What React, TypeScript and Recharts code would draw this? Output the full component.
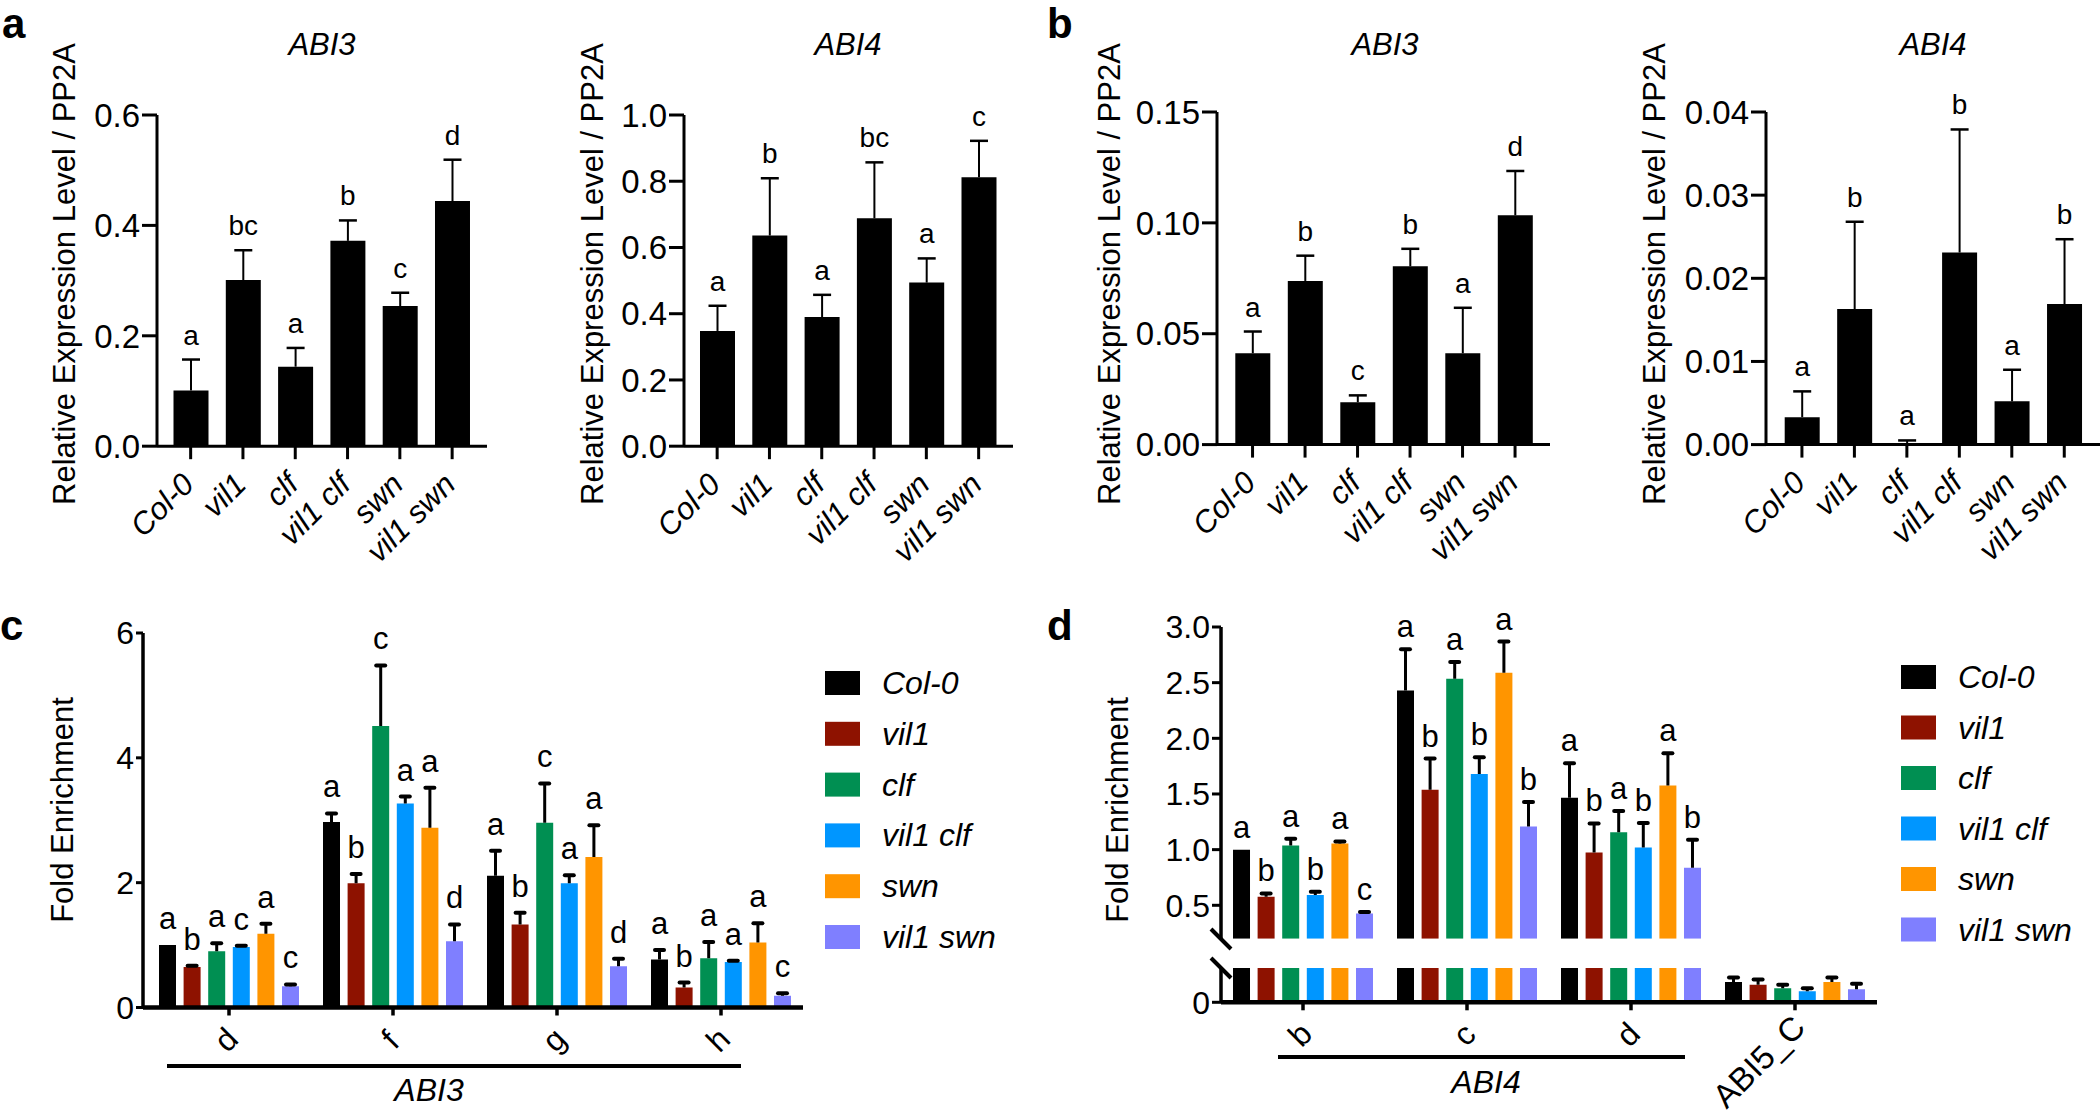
import React from "react";
import { BarChart, Bar, XAxis, YAxis, LabelList } from "recharts";

const FONT = '"Liberation Sans", Arial, Helvetica, sans-serif';

const genotypes = ["Col-0", "vil1", "clf", "vil1 clf", "swn", "vil1 swn"];
const genotypeColors = ["#000000", "#8e1200", "#008f52", "#0096ff", "#ff9500", "#7f7fff"];

// a: relative expression (qRT-PCR)
const aAbi3Mean = [0.101, 0.301, 0.144, 0.372, 0.254, 0.444];
const aAbi3Err = [0.056, 0.054, 0.034, 0.037, 0.024, 0.075];
const aAbi3Letters = ["a", "bc", "a", "b", "c", "d"];
const aAbi3Ticks = [0, 0.2, 0.4, 0.6];

const aAbi4Mean = [0.348, 0.636, 0.39, 0.688, 0.494, 0.812];
const aAbi4Err = [0.076, 0.173, 0.067, 0.169, 0.073, 0.11];
const aAbi4Letters = ["a", "b", "a", "bc", "a", "c"];
const aAbi4Ticks = [0, 0.2, 0.4, 0.6, 0.8, 1.0];

// b
const bAbi3Mean = [0.0412, 0.0738, 0.0191, 0.0804, 0.0412, 0.1034];
const bAbi3Err = [0.0098, 0.0114, 0.0031, 0.0079, 0.0205, 0.02];
const bAbi3Letters = ["a", "b", "c", "b", "a", "d"];
const bAbi3Ticks = [0, 0.05, 0.1, 0.15];

const bAbi4Mean = [0.0033, 0.0163, 0.0001, 0.0231, 0.0052, 0.0169];
const bAbi4Err = [0.0031, 0.0105, 0.0004, 0.0148, 0.0038, 0.0078];
const bAbi4Letters = ["a", "b", "a", "b", "a", "b"];
const bAbi4Ticks = [0, 0.01, 0.02, 0.03, 0.04];

// c: ChIP fold enrichment at ABI3 (one row per genotype, one column per region)
const cRegions = ["d", "f", "g", "h"];
const cMean = [
  [1.0, 2.97, 2.11, 0.77],
  [0.65, 1.99, 1.33, 0.32],
  [0.9, 4.51, 2.96, 0.79],
  [0.97, 3.27, 1.99, 0.73],
  [1.18, 2.88, 2.41, 1.04],
  [0.34, 1.06, 0.66, 0.19],
];
const cErr = [
  [0, 0.14, 0.4, 0.15],
  [0.02, 0.15, 0.19, 0.08],
  [0.13, 0.97, 0.63, 0.26],
  [0.02, 0.11, 0.13, 0.02],
  [0.16, 0.64, 0.51, 0.31],
  [0.03, 0.27, 0.12, 0.04],
];
const cLetters = [
  ["a", "a", "a", "a"],
  ["b", "b", "b", "b"],
  ["a", "c", "c", "a"],
  ["c", "a", "a", "a"],
  ["a", "a", "a", "a"],
  ["c", "d", "d", "c"],
];
const cTicks = [0, 2, 4, 6];

// d: ChIP at ABI4 + ABI5_C control, broken y axis
const dRegions = ["b", "c", "d", "ABI5_C"];
const dMean = [
  [1.0, 2.43, 1.465, 0.118],
  [0.576, 1.538, 0.975, 0.103],
  [1.038, 2.535, 1.156, 0.082],
  [0.592, 1.68, 1.019, 0.065],
  [1.054, 2.589, 1.576, 0.118],
  [0.427, 1.207, 0.838, 0.076],
];
const dErr = [
  [0, 0.37, 0.31, 0.026],
  [0.03, 0.28, 0.26, 0.03],
  [0.06, 0.15, 0.19, 0.02],
  [0.03, 0.15, 0.22, 0.017],
  [0.02, 0.28, 0.29, 0.026],
  [0.013, 0.22, 0.25, 0.032],
];
const dLetters = [
  ["a", "a", "a", ""],
  ["b", "b", "b", ""],
  ["a", "a", "a", ""],
  ["b", "b", "b", ""],
  ["a", "a", "a", ""],
  ["c", "b", "b", ""],
];
const dUpperTicks = [0.5, 1, 1.5, 2, 2.5, 3];
const dLowerTicks = [0];

const exprRows = (mean: number[], err: number[], letters: string[]) =>
  genotypes.map((g, i) => ({ name: g, mean: mean[i], err: err[i], letter: letters[i] }));

const groupRows = (regions: string[], mean: number[][], err: number[][], letters: string[][]) =>
  regions.map((r, j) => {
    const row: any = { name: r };
    genotypes.forEach((_, i) => {
      row[`m${i}`] = mean[i][j];
      row[`e${i}`] = err[i][j];
      row[`l${i}`] = letters[i][j];
    });
    return row;
  });

// error bar drawn on the stacked "err" segment (only the upper half)
const errShape = (capW: number, lineW: number, capH: number, cap: "butt" | "round") => (props: any) => {
  const { x, y, width, height } = props;
  if (!(height > 0.5)) return <g />;
  const cx = x + width / 2;
  return (
    <g>
      <line x1={cx} x2={cx} y1={y + height} y2={y} stroke="#000" strokeWidth={lineW} />
      <line x1={cx - capW / 2} x2={cx + capW / 2} y1={y} y2={y} stroke="#000" strokeWidth={capH} strokeLinecap={cap} />
    </g>
  );
};

const letterLabel = (gap: number, size: number) => (props: any) => {
  const vb = props.viewBox || props;
  if (!props.value) return null;
  return (
    <text x={vb.x + vb.width / 2} y={vb.y - gap} textAnchor="middle" fontSize={size} fontFamily={FONT} fill="#000">
      {props.value}
    </text>
  );
};

const GenotypeTick = (props: any) => {
  const { x, y, payload } = props;
  const tx = x + 5;
  const ty = y + 25;
  return (
    <text x={tx} y={ty} transform={`rotate(-45 ${tx} ${ty})`} textAnchor="end" fontSize={31} fontStyle="italic" fontFamily={FONT} fill="#000">
      {payload.value}
    </text>
  );
};

const RegionTick = (props: any) => {
  const { x, y, payload } = props;
  const label = String(payload.value);
  if (label.length === 1) {
    const cx = x - 3;
    const cy = y + 22;
    return (
      <text x={cx} y={cy} dy="0.35em" textAnchor="middle" transform={`rotate(-45 ${cx} ${cy})`} fontSize={32} fontFamily={FONT} fill="#000">
        {label}
      </text>
    );
  }
  const tx = x + 12;
  const ty = y + 17;
  return (
    <text x={tx} y={ty} textAnchor="end" transform={`rotate(-45 ${tx} ${ty})`} fontSize={33} fontFamily={FONT} fill="#000">
      {label}
    </text>
  );
};

type ExprProps = {
  axisX: number;
  top: number;
  bottom: number;
  right: number;
  padL: number;
  padR: number;
  ticks: number[];
  digits: number;
  rows: any[];
};

const ExprPanel = ({ axisX, top, bottom, right, padL, padR, ticks, digits, rows }: ExprProps) => {
  const YW = 110;
  const MT = 60;
  const XH = 140;
  const MR = 2;
  return (
    <div style={{ position: "absolute", left: axisX - YW, top: top - MT }}>
      <BarChart
        width={right - axisX + YW + MR}
        height={bottom - top + MT + XH}
        data={rows}
        margin={{ top: MT, right: MR, left: 0, bottom: 0 }}
        barSize={35}
      >
        <XAxis
          dataKey="name"
          height={XH}
          interval={0}
          padding={{ left: padL, right: padR }}
          axisLine={{ stroke: "#000", strokeWidth: 3 }}
          tickLine={{ stroke: "#000", strokeWidth: 3 }}
          tickSize={13}
          tick={GenotypeTick}
        />
        <YAxis
          width={YW}
          domain={[ticks[0], ticks[ticks.length - 1]]}
          ticks={ticks}
          tickFormatter={(v: number) => v.toFixed(digits)}
          axisLine={{ stroke: "#000", strokeWidth: 3 }}
          tickLine={{ stroke: "#000", strokeWidth: 3 }}
          tickSize={15}
          tickMargin={2}
          tick={{ fontSize: 33, fill: "#000", fontFamily: FONT }}
        />
        <Bar dataKey="mean" stackId="s" fill="#000" isAnimationActive={false} />
        <Bar dataKey="err" stackId="s" fill="none" shape={errShape(18, 2, 2.5, "butt")} isAnimationActive={false}>
          <LabelList dataKey="letter" content={letterLabel(15, 28)} />
        </Bar>
      </BarChart>
    </div>
  );
};

type GroupProps = {
  axisX: number;
  top: number;
  bottom: number;
  right: number;
  padL: number;
  domain: [number, number];
  ticks: number[];
  digits: number;
  rows: any[];
  showX: boolean;
  letters: boolean;
  tickLen: number;
  gap: number;
};

const GroupPanel = ({ axisX, top, bottom, right, padL, domain, ticks, digits, rows, showX, letters, tickLen, gap }: GroupProps) => {
  const YW = 60;
  const MT = 40;
  const XH = showX ? 120 : 0;
  const MR = 2;
  return (
    <div style={{ position: "absolute", left: axisX - YW, top: top - MT }}>
      <BarChart
        width={right - axisX + YW + MR}
        height={bottom - top + MT + XH}
        data={rows}
        margin={{ top: MT, right: MR, left: 0, bottom: 0 }}
        barSize={17}
        barGap={7.6}
      >
        <XAxis
          dataKey="name"
          hide={!showX}
          height={XH}
          interval={0}
          padding={{ left: padL, right: 0 }}
          axisLine={{ stroke: "#000", strokeWidth: 4.5 }}
          tickLine={{ stroke: "#000", strokeWidth: 3.5 }}
          tickSize={8}
          tick={RegionTick}
        />
        <YAxis
          width={YW}
          domain={domain}
          allowDataOverflow
          ticks={ticks}
          tickFormatter={(v: number) => (digits === 0 ? String(v) : v.toFixed(digits))}
          axisLine={{ stroke: "#000", strokeWidth: 3.5 }}
          tickLine={{ stroke: "#000", strokeWidth: 3 }}
          tickSize={tickLen}
          tickMargin={2}
          tick={{ fontSize: 32, fill: "#000", fontFamily: FONT }}
        />
        {genotypes.flatMap((g, i) => [
          <Bar key={`m${i}`} dataKey={`m${i}`} name={g} stackId={`s${i}`} fill={genotypeColors[i]} isAnimationActive={false} />,
          <Bar key={`e${i}`} dataKey={`e${i}`} stackId={`s${i}`} fill="none" shape={errShape(9, 3, 4, "round")} isAnimationActive={false}>
            {letters ? <LabelList dataKey={`l${i}`} content={letterLabel(gap, 31)} /> : null}
          </Bar>,
        ])}
      </BarChart>
    </div>
  );
};

const Legend = ({ x, textX, y0, step }: { x: number; textX: number; y0: number; step: number }) => (
  <>
    {genotypes.map((g, i) => (
      <g key={g}>
        <rect x={x} y={y0 + i * step - 12} width={35} height={24} fill={genotypeColors[i]} />
        <text x={textX} y={y0 + i * step + 11} fontSize={32} fontStyle="italic" fontFamily={FONT} fill="#000">
          {g}
        </text>
      </g>
    ))}
  </>
);

const App = () => {
  const cRows = groupRows(cRegions, cMean, cErr, cLetters);
  const dRows = groupRows(dRegions, dMean, dErr, dLetters);
  const yLabel = "Relative Expression Level / PP2A";
  const text = { fontFamily: FONT, fill: "#000" } as const;
  return (
    <div style={{ position: "absolute", left: 0, top: 0, width: 2100, height: 1114, background: "#fff", overflow: "hidden" }}>
      <ExprPanel axisX={157} top={114.7} bottom={445.9} right={487} padL={7.5} padR={8.7} ticks={aAbi3Ticks} digits={1} rows={exprRows(aAbi3Mean, aAbi3Err, aAbi3Letters)} />
      <ExprPanel axisX={684} top={114.7} bottom={445.9} right={1013} padL={7} padR={8.2} ticks={aAbi4Ticks} digits={1} rows={exprRows(aAbi4Mean, aAbi4Err, aAbi4Letters)} />
      <ExprPanel axisX={1217} top={111.9} bottom={444.5} right={1550} padL={9.3} padR={8.7} ticks={bAbi3Ticks} digits={2} rows={exprRows(bAbi3Mean, bAbi3Err, bAbi3Letters)} />
      <ExprPanel axisX={1766} top={111.9} bottom={444.5} right={2100} padL={9.7} padR={9.5} ticks={bAbi4Ticks} digits={2} rows={exprRows(bAbi4Mean, bAbi4Err, bAbi4Letters)} />

      <GroupPanel axisX={143} top={633} bottom={1007.5} right={803} padL={4} domain={[0, 6]} ticks={cTicks} digits={0} rows={cRows} showX letters tickLen={7} gap={16} />
      <GroupPanel axisX={1221} top={627} bottom={938.7} right={1877} padL={0} domain={[0.2, 3]} ticks={dUpperTicks} digits={1} rows={dRows} showX={false} letters tickLen={9} gap={12} />
      <GroupPanel axisX={1221} top={967.7} bottom={1002} right={1877} padL={0} domain={[0, 0.2]} ticks={dLowerTicks} digits={0} rows={dRows} showX letters={false} tickLen={9} gap={12} />

      <svg width={2100} height={1114} style={{ position: "absolute", left: 0, top: 0, pointerEvents: "none" }}>
        <g {...text} fontSize={42} fontWeight="bold">
          <text x={2} y={38}>a</text>
          <text x={1047} y={38}>b</text>
          <text x={0} y={640}>c</text>
          <text x={1047} y={640}>d</text>
        </g>
        <g {...text} fontSize={31} fontStyle="italic" textAnchor="middle">
          <text x={322} y={55}>ABI3</text>
          <text x={848} y={55}>ABI4</text>
          <text x={1385} y={55}>ABI3</text>
          <text x={1933} y={55}>ABI4</text>
        </g>
        <g {...text} fontSize={31} textAnchor="middle">
          <text x={75} y={274} transform="rotate(-90 75 274)">{yLabel}</text>
          <text x={603} y={274} transform="rotate(-90 603 274)">{yLabel}</text>
          <text x={1120} y={274} transform="rotate(-90 1120 274)">{yLabel}</text>
          <text x={1665} y={274} transform="rotate(-90 1665 274)">{yLabel}</text>
          <text x={73} y={810} transform="rotate(-90 73 810)">Fold Enrichment</text>
          <text x={1128} y={810} transform="rotate(-90 1128 810)">Fold Enrichment</text>
        </g>

        {/* gene brackets under c and d */}
        <line x1={167} x2={741} y1={1066} y2={1066} stroke="#000" strokeWidth={4} />
        <text x={429} y={1101} textAnchor="middle" fontSize={32} fontStyle="italic" {...text}>ABI3</text>
        <line x1={1278} x2={1685} y1={1057} y2={1057} stroke="#000" strokeWidth={4} />
        <text x={1486} y={1093} textAnchor="middle" fontSize={32} fontStyle="italic" {...text}>ABI4</text>

        {/* axis break marks */}
        <line x1={1211} y1={929} x2={1231} y2={949} stroke="#000" strokeWidth={4} />
        <line x1={1211} y1={958} x2={1231} y2={978} stroke="#000" strokeWidth={4} />

        <Legend x={825} textX={882} y0={683} step={50.8} />
        <Legend x={1901} textX={1958} y0={677} step={50.5} />
      </svg>
    </div>
  );
};

export default App;
